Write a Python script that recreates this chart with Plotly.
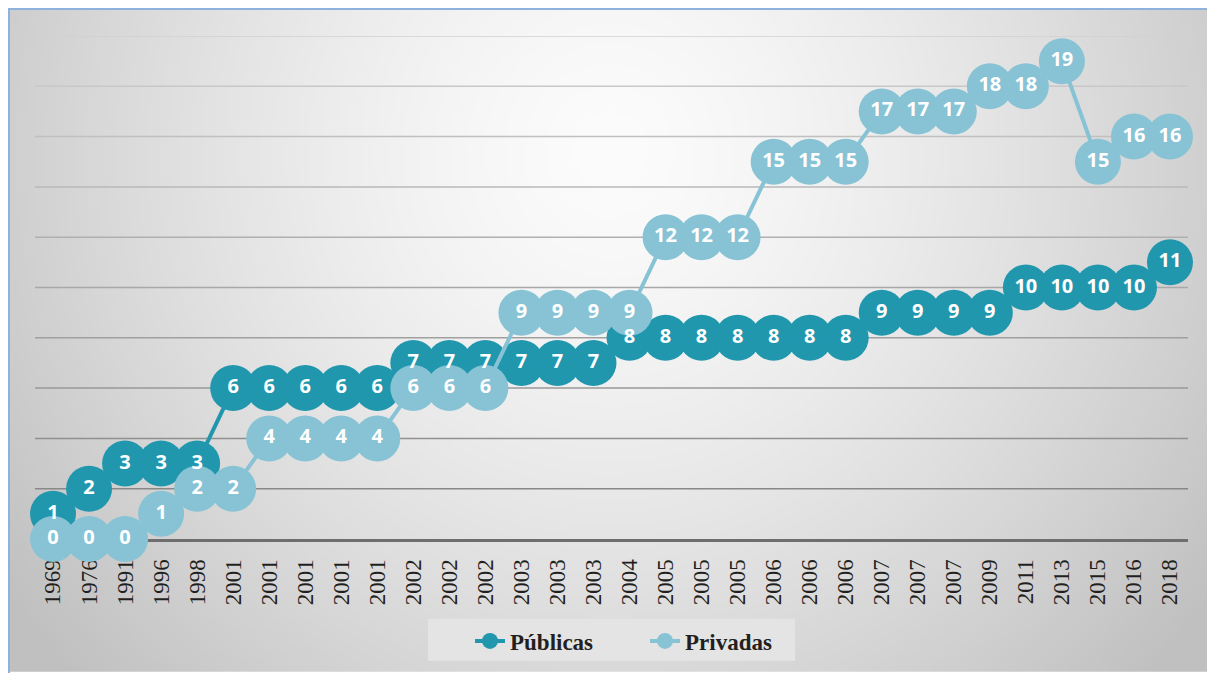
import base64
import struct
import zlib

import numpy as np
import plotly.graph_objects as go

# ---------------- data ----------------
years = ["1969", "1976", "1991", "1996", "1998", "2001", "2001", "2001", "2001", "2001",
         "2002", "2002", "2002", "2003", "2003", "2003", "2004", "2005", "2005", "2005",
         "2006", "2006", "2006", "2007", "2007", "2007", "2009", "2011", "2013", "2015",
         "2016", "2018"]
publicas = [1, 2, 3, 3, 3, 6, 6, 6, 6, 6, 7, 7, 7, 7, 7, 7, 8, 8, 8, 8, 8, 8, 8,
            9, 9, 9, 9, 10, 10, 10, 10, 11]
privadas = [0, 0, 0, 1, 2, 2, 4, 4, 4, 4, 6, 6, 6, 9, 9, 9, 9, 12, 12, 12, 15, 15, 15,
            17, 17, 17, 18, 18, 19, 15, 16, 16]
grid_values = [2, 4, 6, 8, 10, 12, 14, 16, 18, 20]

# ---------------- layout geometry (page pixels, page has 8px body margin) ----------------
OFF = 8
W, H = 1215 - OFF, 673 - OFF
PL, PR, PT, PB = 35, 1188, 36, 540          # plot area in page px
ML, MT = PL - OFF, PT - OFF
PW, PH = PR - PL, PB - PT
MR, MB = W - ML - PW, H - MT - PH


def px_x(p):
    return (p - PL) / PW


def px_y(p):
    return 1 - (p - PT) / PH


C_PUB = "#2197ae"
C_PRI = "#87c3d5"

# ---------------- background gradient (PNG built in memory) ----------------
def make_png(arr):
    h, w = arr.shape
    raw = b"".join(b"\x00" + arr[i].tobytes() for i in range(h))

    def chunk(t, d):
        c = struct.pack(">I", len(d)) + t + d
        return c + struct.pack(">I", zlib.crc32(t + d) & 0xFFFFFFFF)

    return (b"\x89PNG\r\n\x1a\n"
            + chunk(b"IHDR", struct.pack(">IIBBBBB", w, h, 8, 0, 0, 0, 0))
            + chunk(b"IDAT", zlib.compress(raw, 9))
            + chunk(b"IEND", b""))


gw, gh = 302, 167
bx0, by0, bx1, by1 = OFF + 1, OFF + 1, 1215, 673
gx = np.linspace(bx0, bx1, gw)
gy = np.linspace(by0, by1, gh)
X, Y = np.meshgrid(gx, gy)
d = np.sqrt(((X - 610) / 600) ** 2 + ((Y - 150) / 620) ** 2)
val = 252 - 44 * d ** 1.4
val = np.clip(val, 192, 252).astype(np.uint8)
bg_uri = "data:image/png;base64," + base64.b64encode(make_png(val)).decode()

# ---------------- figure ----------------
fig = go.Figure()
idx = list(range(len(years)))

fig.add_trace(go.Scatter(
    x=idx, y=publicas, mode="lines+markers", name="Públicas",
    line=dict(color=C_PUB, width=4),
    marker=dict(size=46, color=C_PUB, line=dict(width=0)),
    cliponaxis=False, hoverinfo="skip"))
fig.add_trace(go.Scatter(
    x=idx, y=privadas, mode="lines+markers", name="Privadas",
    line=dict(color=C_PRI, width=4),
    marker=dict(size=46, color=C_PRI, line=dict(width=0)),
    cliponaxis=False, hoverinfo="skip"))
for series in (publicas, privadas):
    fig.add_trace(go.Scatter(
        x=idx, y=series, mode="text", text=[str(v) for v in series],
        textposition="middle center",
        textfont=dict(family="Open Sans", size=20, color="white", weight="bold"),
        showlegend=False, cliponaxis=False, hoverinfo="skip"))

shapes = []
# gridlines (darker toward the bottom)
for v in grid_values:
    g = int(round(136 + (v - 2) * 4))
    shapes.append(dict(type="line", xref="paper", yref="y", x0=0, x1=1, y0=v, y1=v,
                       line=dict(color=f"rgb({g},{g},{g})", width=1.5), layer="below"))
# outer blue border
shapes.append(dict(type="rect", xref="paper", yref="paper",
                   x0=px_x(OFF + 1), x1=px_x(1213.5), y0=px_y(OFF + 1), y1=px_y(700),
                   line=dict(color="#8fb2dc", width=2), fillcolor="rgba(0,0,0,0)",
                   layer="above"))
# legend box
shapes.append(dict(type="rect", xref="paper", yref="paper",
                   x0=px_x(428), x1=px_x(795), y0=px_y(620), y1=px_y(662),
                   line=dict(width=0), fillcolor="#e4e4e4", layer="above"))

fig.update_layout(
    width=W, height=H,
    margin=dict(l=ML, r=MR, t=MT, b=MB, pad=0),
    paper_bgcolor="white",
    plot_bgcolor="rgba(0,0,0,0)",
    images=[dict(source=bg_uri, xref="paper", yref="paper",
                 x=px_x(bx0), y=px_y(by0), sizex=(bx1 - bx0) / PW, sizey=(by1 - by0) / PH,
                 xanchor="left", yanchor="top", sizing="stretch", layer="below")],
    shapes=shapes,
    showlegend=True,
    legend=dict(orientation="h", x=px_x(470), xanchor="left",
                y=px_y(641), yanchor="middle",
                bgcolor="rgba(0,0,0,0)",
                font=dict(family="Liberation Serif", size=23, color="#231f20", weight="bold"),
                entrywidth=130, entrywidthmode="pixels",
                itemwidth=30, traceorder="normal"),
    xaxis=dict(range=[-0.5, len(years) - 0.5], tickmode="array", tickvals=idx,
               ticktext=years, tickangle=-90, ticks="", showgrid=False, zeroline=False,
               showline=True, linecolor="#6e6e6e", linewidth=3, layer="below traces",
               ticklabelstandoff=8,
               tickfont=dict(family="Liberation Serif", size=23, color="#231f20"),
               fixedrange=True),
    yaxis=dict(range=[0, 20], showticklabels=False, showgrid=False, zeroline=False,
               showline=False, ticks="", fixedrange=True),
)

fig.write_html("out.html")
